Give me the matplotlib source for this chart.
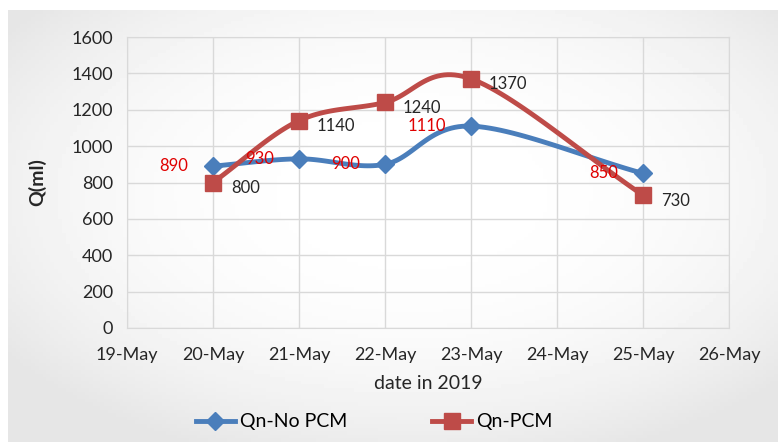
import numpy as np
import matplotlib.pyplot as plt
import matplotlib.dates as mdates
from datetime import date as Date

plt.rcParams['font.family'] = ['Lato', 'DejaVu Sans']

# data
dates = [Date(2019, 5, 20), Date(2019, 5, 21), Date(2019, 5, 22), Date(2019, 5, 23), Date(2019, 5, 25)]
qn_no_pcm = [890, 930, 900, 1110, 850]
qn_pcm = [800, 1140, 1240, 1370, 730]
y_ticks = [0, 200, 400, 600, 800, 1000, 1200, 1400, 1600]

BLUE = '#4a7ebb'
RED = '#be4b48'
TEXT = '#262626'


def smooth(x, y, n=30):
    # Catmull-Rom curve through the points, like Excel's "smoothed line"
    x = np.asarray(x, float)
    y = np.asarray(y, float)
    px = np.concatenate([[2 * x[0] - x[1]], x, [2 * x[-1] - x[-2]]])
    py = np.concatenate([[2 * y[0] - y[1]], y, [2 * y[-1] - y[-2]]])
    xs, ys = [], []
    t = np.linspace(0, 1, n)
    for i in range(1, len(px) - 2):
        for p, out in ((px, xs), (py, ys)):
            p0, p1, p2, p3 = p[i - 1], p[i], p[i + 1], p[i + 2]
            out.extend(0.5 * ((2 * p1) + (-p0 + p2) * t + (2 * p0 - 5 * p1 + 4 * p2 - p3) * t ** 2
                              + (-p0 + 3 * p1 - 3 * p2 + p3) * t ** 3))
    return np.array(xs), np.array(ys)


fig = plt.figure(figsize=(7.78, 4.42), dpi=100)
fig.patch.set_facecolor('white')

# soft grey gradient panel behind the chart
bg = fig.add_axes([8 / 778, 0, 1 - 8 / 778, 1 - 10 / 442])
gx, gy = np.meshgrid(np.linspace(-1, 1, 200), np.linspace(-1, 1, 120))
r = np.clip(np.sqrt((gx - 0.05) ** 2 + (gy - 0.15) ** 2) / 1.3, 0, 1)
bg.imshow(1 - 0.1 * r ** 2.5, cmap='gray', vmin=0, vmax=1, aspect='auto',
          extent=[0, 1, 0, 1], origin='lower')
bg.axis('off')

ax = fig.add_axes([127 / 778, 1 - 328 / 442, (729 - 127) / 778, (328 - 37) / 442])
ax.patch.set_alpha(0)

xnum = mdates.date2num(dates)
for vals, color, marker, ms in ((qn_no_pcm, BLUE, 'D', 9), (qn_pcm, RED, 's', 12)):
    sx, sy = smooth(xnum, vals)
    ax.plot(sx, sy, color=color, lw=3.5, solid_capstyle='round', zorder=3)
    ax.plot(xnum, vals, ls='none', marker=marker, ms=ms, color=color, zorder=4)

# legend proxies
ax.plot([], [], color=BLUE, lw=3.5, marker='D', ms=9, label='Qn-No PCM')
ax.plot([], [], color=RED, lw=3.5, marker='s', ms=12, label='Qn-PCM')

for x, v in zip(xnum, qn_no_pcm):
    ax.annotate(str(v), (x, v), xytext=(-18, 0), textcoords='offset points',
                ha='right', va='center', color='#e00000', fontsize=12, zorder=5)
for x, v in zip(xnum, qn_pcm):
    ax.annotate(str(v), (x, v), xytext=(13, -4), textcoords='offset points',
                ha='left', va='center', color=TEXT, fontsize=12, zorder=5)

ax.set_xlim(mdates.date2num(Date(2019, 5, 19)), mdates.date2num(Date(2019, 5, 26)))
ax.set_ylim(0, 1600)
ax.set_yticks(y_ticks)
ax.xaxis.set_major_locator(mdates.DayLocator())
ax.xaxis.set_major_formatter(mdates.DateFormatter('%d-%b'))
ax.grid(True, color='#d9d9d9', lw=1)
ax.set_axisbelow(True)
for s in ax.spines.values():
    s.set_color('#d9d9d9')
ax.tick_params(axis='x', length=0, labelsize=13, colors=TEXT, pad=14)
ax.tick_params(axis='y', length=0, labelsize=13, colors=TEXT, pad=10)

ax.set_xlabel('date in 2019', fontsize=14, color=TEXT, labelpad=8)
ax.set_ylabel('Q(ml)', fontsize=14, fontweight='bold', color=TEXT, labelpad=18)

fig.legend(loc='center', bbox_to_anchor=(0.481, 1 - 422 / 442), ncol=2, frameon=False,
           fontsize=14, handlelength=2.0, columnspacing=4.4, handletextpad=0.25)

fig.savefig('out.png', dpi=100)
